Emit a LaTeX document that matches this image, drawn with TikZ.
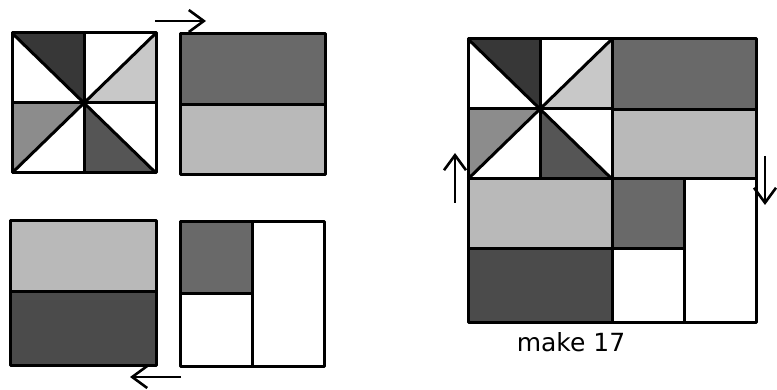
\documentclass[tikz,border=0pt]{standalone}
\usepackage{fontspec}
\setsansfont{DejaVu Sans}
\usetikzlibrary{arrows.meta}
\definecolor{QuiltDark}{RGB}{55,55,55}
\definecolor{QuiltDim}{RGB}{85,85,85}
\definecolor{QuiltMid}{RGB}{105,105,105}
\definecolor{QuiltGray}{RGB}{140,140,140}
\definecolor{QuiltLight}{RGB}{185,185,185}
\definecolor{QuiltPale}{RGB}{200,200,200}
\tikzset{
  seam/.style={draw=black,line width=3pt,line join=round},
  turn/.style={draw=black,line width=2.6pt,-{Straight Barb[length=15pt,width=22pt,line width=2.6pt]}},
  caption/.style={font=\sffamily\fontsize{25}{30}\selectfont},
}
% pinwheel block, top-left corner at #1
\newcommand{\pinblock}[1]{%
  \begin{scope}[shift={#1}]
    \fill[QuiltDark] (0,0)--(72,0)--(72,70)--cycle;
    \fill[QuiltPale] (144,0)--(144,70)--(72,70)--cycle;
    \fill[QuiltGray] (0,70)--(72,70)--(0,140)--cycle;
    \fill[QuiltDim] (72,70)--(72,140)--(144,140)--cycle;
    \draw[seam] (0,0) rectangle (144,140);
    \draw[seam] (0,0)--(144,140) (0,140)--(144,0);
    \draw[seam] (72,0)--(72,140) (0,70)--(144,70);
  \end{scope}}

\begin{document}
\begin{tikzpicture}[x=1pt,y=-1pt]
\useasboundingbox (0,0) rectangle (777,390);
% the four blocks
\pinblock{(12,33)}
\draw[seam,fill=QuiltMid] (180,34) rectangle (325,105);
\draw[seam,fill=QuiltLight] (180,105) rectangle (325,175);
\draw[seam,fill=QuiltLight] (10,221) rectangle (156,292);
\draw[seam,fill=QuiltDark!90!white] (10,292) rectangle (156,365);
\draw[seam,fill=QuiltMid] (180,222) rectangle (252,294);
\draw[seam] (180,294) rectangle (252,366);
\draw[seam] (252,222) rectangle (324,366);
% the sewn quilt
\pinblock{(468,39)}
\draw[seam,fill=QuiltMid] (612,39) rectangle (756,110);
\draw[seam,fill=QuiltLight] (612,110) rectangle (756,179);
\draw[seam,fill=QuiltLight] (468,179) rectangle (612,249);
\draw[seam,fill=QuiltDark!90!white] (468,249) rectangle (612,323);
\draw[seam,fill=QuiltMid] (612,179) rectangle (684,249);
\draw[seam] (612,249) rectangle (684,323);
\draw[seam] (684,179) rectangle (756,323);
% turning arrows
\coordinate (ta) at (155,21);
\coordinate (tb) at (206,21);
\coordinate (ba) at (181,377);
\coordinate (bb) at (130,377);
\coordinate (la) at (455,203);
\coordinate (lb) at (455,153);
\coordinate (ra) at (765,156);
\coordinate (rb) at (765,205);
\draw[turn] (ta)--(tb);
\draw[turn] (ba)--(bb);
\draw[turn] (la)--(lb);
\draw[turn] (ra)--(rb);
\node[caption] (make) at (571,342) {make 17};
\end{tikzpicture}
\end{document}
